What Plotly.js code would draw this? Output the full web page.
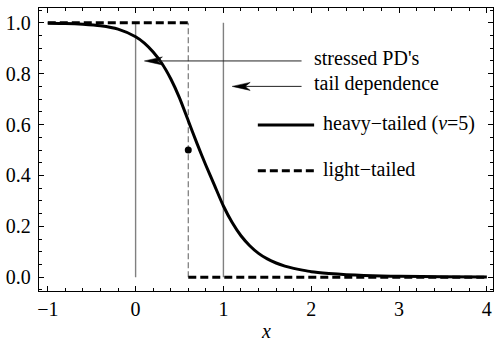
<!DOCTYPE html>
<html>
<head>
<meta charset="utf-8">
<script src="https://cdn.plot.ly/plotly-3.0.1.min.js"></script>
</head>
<body style="margin:0;padding:0;background:#fff">
<div id="chart" style="width:495px;height:341px"></div>
<script>
// Heavy-tailed curve (nu = 5)
const heavyX = [-1.0, -0.8, -0.6, -0.4, -0.2, 0.0, 0.1, 0.2, 0.3, 0.4, 0.5, 0.6, 0.7, 0.8, 0.9, 1.0, 1.1, 1.2, 1.3, 1.4, 1.5, 1.6, 1.7, 1.8, 1.9, 2.0, 2.2, 2.4, 2.6, 2.8, 3.0, 3.5, 4.0];
const heavyY = [0.998, 0.997, 0.994, 0.988, 0.975, 0.945, 0.92, 0.885, 0.84, 0.78, 0.705, 0.615, 0.525, 0.44, 0.36, 0.28, 0.215, 0.163, 0.124, 0.094, 0.072, 0.056, 0.044, 0.035, 0.028, 0.022, 0.015, 0.010, 0.007, 0.005, 0.004, 0.002, 0.001];

// Light-tailed step function
const lightUpperX = [-1.0, 0.6];
const lightUpperY = [1.0, 1.0];
const lightLowerX = [0.6, 4.0];
const lightLowerY = [0.0, 0.0];

// Reference vertical lines
const solidRefX = [0, 1];
const dashedRefX = [0.6];
const refY = [0, 1];

// Point
const pointX = [0.6];
const pointY = [0.5];

// Arrows (tail -> tip) and their labels
const arrowLabels = ["stressed PD's", "tail dependence"];
const arrowTipX = [0.1, 1.1];
const arrowY = [0.85, 0.75];
const arrowTailX = [1.89, 1.89];

const legendLabels = ["heavy\u2212tailed (<i>\u03bd</i>=5)", "light\u2212tailed"];
const xAxisTitle = "<i>x</i>";

const xTickVals = [-1, 0, 1, 2, 3, 4];
const yTickVals = [0.0, 0.2, 0.4, 0.6, 0.8, 1.0];

const FONT = 'Liberation Serif';

const traces = [];
solidRefX.forEach(v => traces.push({x: [v, v], y: refY, mode: 'lines', line: {color: '#808080', width: 1.4}, hoverinfo: 'skip', showlegend: false}));
dashedRefX.forEach(v => traces.push({x: [v, v], y: refY, mode: 'lines', line: {color: '#777777', width: 1.2, dash: '6px,3px'}, hoverinfo: 'skip', showlegend: false}));
traces.push({x: lightUpperX, y: lightUpperY, mode: 'lines', line: {color: '#000', width: 3, dash: '8px,4px'}, showlegend: false});
traces.push({x: lightLowerX, y: lightLowerY, mode: 'lines', line: {color: '#000', width: 3, dash: '8px,4px'}, showlegend: false});
traces.push({x: heavyX, y: heavyY, mode: 'lines', line: {color: '#000', width: 3, shape: 'spline', smoothing: 0.6}, showlegend: false});
traces.push({x: pointX, y: pointY, mode: 'markers', marker: {color: '#000', size: 7}, showlegend: false});

// plot geometry (px)
const L = 39, R = 2, T = 8, B = 50, W = 495, H = 341;
const pw = W - L - R, ph = H - T - B;
const xr = [-1.1, 4.07], yr = [-0.054, 1.058];
const dxPx = (xr[1] - xr[0]) / pw, dyPx = (yr[1] - yr[0]) / ph;

const shapes = [];
const annotations = [];
arrowLabels.forEach((lab, i) => {
  shapes.push({type: 'line', xref: 'x', yref: 'y', x0: arrowTailX[i], x1: arrowTipX[i] + 12 * dxPx, y0: arrowY[i], y1: arrowY[i], line: {color: '#222', width: 1}});
  const tx = arrowTipX[i], ty = arrowY[i];
  const hl = 18 * dxPx, hw = 4 * dyPx;
  shapes.push({type: 'path', xref: 'x', yref: 'y',
    path: `M${tx},${ty} L${tx + hl},${ty + hw} L${tx + 0.72 * hl},${ty} L${tx + hl},${ty - hw} Z`,
    fillcolor: '#000', line: {color: '#000', width: 0.5}});
  annotations.push({xref: 'x', yref: 'y', x: arrowTailX[i] + 10 * dxPx, y: arrowY[i] + 3 * dyPx, text: lab, showarrow: false, xanchor: 'left', yanchor: 'middle', font: {family: FONT, size: 20, color: '#000'}});
});

// legend (paper coords)
const legY = [0.587, 0.425];
const legDash = ['solid', '8px,4px'];
legendLabels.forEach((lab, i) => {
  shapes.push({type: 'line', xref: 'paper', yref: 'paper', x0: 0.482, x1: 0.606, y0: legY[i], y1: legY[i], line: {color: '#000', width: 3, dash: legDash[i]}});
  annotations.push({xref: 'paper', yref: 'paper', x: 0.622, y: legY[i] + 0.004, text: lab, showarrow: false, xanchor: 'left', yanchor: 'middle', font: {family: FONT, size: 20, color: '#000'}});
});

// x axis title
annotations.push({xref: 'paper', yref: 'paper', x: 0.5, y: -0.14, text: xAxisTitle, showarrow: false, xanchor: 'center', yanchor: 'middle', font: {family: FONT, size: 20, color: '#000'}});

const axisCommon = {
  showgrid: false, zeroline: false, showline: true, linecolor: '#000', linewidth: 1.3,
  mirror: 'allticks', ticks: 'inside', ticklen: 5, tickwidth: 1, tickcolor: '#000',
  tickfont: {family: FONT, size: 20, color: '#000'}
};

const layout = {
  width: W, height: H,
  margin: {l: L, r: R, t: T, b: B, pad: 0},
  paper_bgcolor: '#fff', plot_bgcolor: '#fff',
  showlegend: false,
  font: {family: FONT, size: 20, color: '#000'},
  xaxis: Object.assign({}, axisCommon, {
    range: xr, tickvals: xTickVals, ticktext: xTickVals.map(v => v < 0 ? '\u2212' + Math.abs(v) : String(v)),
    minor: {dtick: 0.2, tick0: 0, ticks: 'inside', ticklen: 3, tickcolor: '#000', showgrid: false}
  }),
  yaxis: Object.assign({}, axisCommon, {
    range: yr, tickvals: yTickVals, ticktext: yTickVals.map(v => v.toFixed(1)),
    minor: {dtick: 0.05, tick0: 0, ticks: 'inside', ticklen: 3, tickcolor: '#000', showgrid: false},
    ticklabelstandoff: 3
  }),
  shapes: shapes,
  annotations: annotations
};

Plotly.newPlot('chart', traces, layout, {displayModeBar: false}).then(gd => {
  gd.querySelectorAll('text').forEach(t => { t.style.fontFamily = FONT; });
});
</script>
</body>
</html>
